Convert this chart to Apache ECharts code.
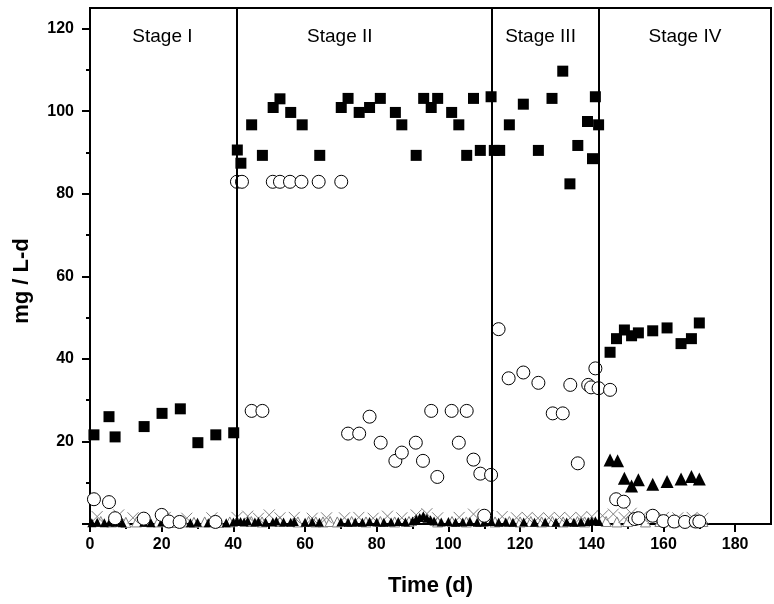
<!DOCTYPE html>
<html>
<head>
<meta charset="utf-8">
<script src="https://cdn.jsdelivr.net/npm/echarts@6/dist/echarts.min.js"></script>
<style>html,body{margin:0;padding:0;background:#fff;}#c{width:774px;height:604px;}</style>
</head>
<body>
<div id="c"></div>
<script>
// ---- data ----
const xMajorTicks = [0, 20, 40, 60, 80, 100, 120, 140, 160, 180];
const xMinorTicks = [10, 30, 50, 70, 90, 110, 130, 150, 170];
const yMajorTicks = [0, 20, 40, 60, 80, 100, 120];
const yLabelTicks = [20, 40, 60, 80, 100, 120];
const yMinorTicks = [10, 30, 50, 70, 90, 110];

const stageBounds = [41, 112, 142];
const stageNames = ['Stage I', 'Stage II', 'Stage III', 'Stage IV'];
const stageLabelX = [20.2, 69.7, 125.7, 166];
const stageLabelY = 118.0;

const squares = [
  [1.1,21.6],[5.3,26.0],[7.0,21.1],[15.1,23.6],[20.1,26.8],[25.2,27.9],[30.1,19.7],[35.1,21.6],[40.1,22.1],
  [41.1,90.6],[42.1,87.4],[45.1,96.7],[48.1,89.3],[51.1,100.9],[53.0,103.0],[56.0,99.7],[59.2,96.7],[64.1,89.3],
  [70.1,100.9],[72.0,103.1],[75.1,99.7],[78.0,100.9],[81.0,103.1],[85.2,99.7],[87.0,96.7],[91.0,89.3],
  [93.1,103.1],[95.2,100.9],[97.0,103.1],[100.9,99.7],[102.9,96.7],[105.1,89.3],[107.0,103.1],[108.9,90.5],[111.9,103.5],
  [112.8,90.5],[114.3,90.5],[117.0,96.7],[120.9,101.7],[125.1,90.5],[128.9,103.1],[131.9,109.7],[133.9,82.4],
  [136.1,91.7],[138.8,97.5],[140.2,88.5],[141.0,103.5],[141.9,96.7],
  [145.1,41.6],[146.9,44.9],[149.1,47.0],[151.1,45.6],[153.0,46.3],[157.0,46.8],[161.0,47.5],[164.9,43.7],[167.8,44.9],[170.0,48.7]
];

const circles = [
  [1.1,6.0],[5.3,5.3],[7,1.4],[15,1.3],[20,2.2],[22,0.6],[25,0.5],[35,0.5],
  [41,82.9],[42.4,82.9],[45.1,27.4],[48.1,27.4],[51,82.9],[53,82.9],[55.8,82.9],[59,82.9],[63.8,82.9],[70.1,82.9],
  [72,21.9],[75.1,21.9],[78,26.0],[81.1,19.7],[85.2,15.3],[87,17.3],[90.9,19.7],[92.9,15.3],[95.2,27.4],[96.9,11.4],
  [100.9,27.4],[102.9,19.7],[105.1,27.4],[107,15.6],[108.9,12.2],[110,2.0],[111.9,11.9],
  [114,47.2],[116.8,35.3],[120.9,36.7],[125.1,34.2],[129.1,26.8],[131.9,26.8],[134,33.7],[136.1,14.7],
  [139,33.7],[139.8,33.1],[141,37.7],[141.9,32.9],
  [145.1,32.5],[146.8,6.0],[148.9,5.4],[152,1.2],[153,1.4],[157,2.0],[160,0.7],[163,0.6],[166,0.5],[169,0.6],[170,0.6]
];

const bigTriangles = [
  [145.1,15.5],[147.2,15.3],[149.1,11.1],[151.1,9.2],[153.0,10.7],[157.0,9.6],[161.0,10.3],[164.9,10.9],[167.8,11.5],[170.0,10.9]
];

const smallTriangles = [
  [0.5,0.3],[2,0.4],[4,0.3],[5.5,0.5],[7,0.4],[9,0.3],[15,0.4],[17,0.3],[20,0.5],[22,0.3],[25,0.4],[28,0.3],[30,0.4],
  [33,0.3],[35,0.4],[38,0.3],[40,0.5],[41,0.8],[42,0.6],[43,0.5],[44,0.7],[46,0.5],[47,0.6],[49,0.4],[51,0.5],[52,0.7],
  [54,0.5],[56,0.4],[57,0.6],[60,0.4],[62,0.5],[64,0.4],[70,0.5],[72,0.4],[74,0.5],[76,0.4],[78,0.6],[80,0.5],[82,0.4],
  [84,0.5],[86,0.6],[88,0.5],[90,0.7],[91,1.2],[92,1.6],[93,2.0],[94,1.4],[95,1.0],[96,0.7],[98,0.5],[100,0.6],[102,0.4],
  [104,0.5],[106,0.6],[108,0.4],[110,0.5],[112,0.6],[114,0.4],[116,0.5],[118,0.4],[121,0.5],[124,0.4],[127,0.5],[130,0.4],
  [133,0.5],[135,0.4],[137,0.5],[139,0.6],[140,0.7],[141,0.8],[142,0.6]
];

const openTriangles = [
  [3,0.6],[6,0.5],[10,0.4],[13,0.5],[16,0.6],[19,0.5],[23,0.4],[26,0.5],[29,0.4],[32,0.5],[36,0.4],[39,0.5],[45,0.6],
  [48,0.5],[53,0.6],[58,0.5],[61,0.6],[63,0.5],[65,0.5],[67,0.6],[69,0.5],[73,0.6],[77,0.5],[81,0.6],[85,0.5],[89,0.6],
  [97,0.5],[101,0.6],[105,0.5],[109,0.6],[113,0.5],[117,0.6],[120,0.5],[123,0.6],[126,0.5],[129,0.6],[132,0.5],[136,0.6],
  [138,0.5],[144,0.6],[147,0.5],[150,0.6],[155,0.5],[159,0.6],[163,0.5],[166,0.6],[169,0.5],[171,0.6]
];

const crosses = [
  [2,1.8],[8,2.2],[12,1.5],[21,1.6],[27,1.4],[34,1.5],[41,1.6],[44,1.9],[47,1.4],[50,2.2],[53,1.5],[57,1.6],[62,1.4],
  [66,1.5],[71,1.5],[75,1.6],[79,1.4],[83,1.9],[87,1.5],[91,2.2],[94,2.5],[97,1.5],[103,1.6],[107,2.4],[111,2.0],
  [115,1.8],[119,1.5],[122,1.6],[125,1.4],[128,1.5],[131,1.6],[134,1.5],[137,1.6],[140,1.8],[143,2.0],[146,2.4],
  [149,1.6],[151,2.6],[154,1.8],[157,1.4],[160,1.6],[164,1.5],[168,1.6],[171,1.4]
];

// ---- chart ----
const FONT = "'Liberation Sans', Arial, Helvetica, sans-serif";
const chart = echarts.init(document.getElementById('c'), null, { renderer: 'canvas' });

const stageLabelData = stageNames.map((n, i) => ({ name: n, value: [stageLabelX[i], stageLabelY] }));

const option = {
  animation: false,
  backgroundColor: '#ffffff',
  grid: { left: 90, right: 3, top: 8, bottom: 80, show: true, borderColor: '#000', borderWidth: 2, backgroundColor: 'transparent' },
  xAxis: [
    {
      type: 'value', min: 0, max: 190,
      name: 'Time (d)', nameLocation: 'middle', nameGap: 51,
      nameTextStyle: { fontFamily: FONT, fontWeight: 'bold', fontSize: 22, color: '#000' },
      axisLine: { show: true, lineStyle: { color: '#000', width: 2 } },
      axisTick: { show: true, inside: false, length: 8, lineStyle: { color: '#000', width: 2 }, customValues: xMajorTicks },
      axisLabel: { show: true, margin: 13, fontFamily: FONT, fontWeight: 'bold', fontSize: 16, color: '#000', customValues: xMajorTicks },
      splitLine: { show: false }
    },
    {
      type: 'value', min: 0, max: 190, position: 'bottom', offset: 0,
      axisLine: { show: false },
      axisTick: { show: true, inside: false, length: 5, lineStyle: { color: '#000', width: 2 }, customValues: xMinorTicks },
      axisLabel: { show: false },
      splitLine: { show: false }
    }
  ],
  yAxis: [
    {
      type: 'value', min: 0, max: 125,
      axisLine: { show: true, lineStyle: { color: '#000', width: 2 } },
      axisTick: { show: true, inside: false, length: 8, lineStyle: { color: '#000', width: 2 }, customValues: yMajorTicks },
      axisLabel: { show: true, margin: 16, fontFamily: FONT, fontWeight: 'bold', fontSize: 16, color: '#000', customValues: yLabelTicks },
      splitLine: { show: false }
    },
    {
      type: 'value', min: 0, max: 125, position: 'left', offset: 0,
      axisLine: { show: false },
      axisTick: { show: true, inside: false, length: 4, lineStyle: { color: '#000', width: 2 }, customValues: yMinorTicks },
      axisLabel: { show: false },
      splitLine: { show: false }
    }
  ],
  graphic: [
    {
      type: 'text', x: 22, y: 281, rotation: Math.PI / 2,
      style: { text: 'mg / L-d', font: "bold 22px " + FONT, fill: '#000', align: 'center', verticalAlign: 'middle' }
    }
  ],
  series: [
    {
      type: 'scatter', name: 'stages', data: stageLabelData, symbolSize: 1,
      itemStyle: { color: 'transparent', opacity: 1 }, silent: true,
      label: { show: true, position: 'inside', formatter: '{b}', fontFamily: FONT, fontSize: 19, color: '#000', opacity: 1 },
      markLine: {
        silent: true, symbol: ['none', 'none'], label: { show: false },
        lineStyle: { color: '#000', width: 2, type: 'solid', opacity: 1 },
        data: stageBounds.map(v => ({ xAxis: v }))
      }
    },
    {
      type: 'scatter', name: 'open triangles', data: openTriangles, symbol: 'triangle', symbolSize: 10,
      itemStyle: { color: '#fff', borderColor: '#808080', borderWidth: 1, opacity: 1 }
    },
    {
      type: 'scatter', name: 'crosses', data: crosses, symbol: 'path://M0,0L10,10M10,0L0,10', symbolSize: 11,
      itemStyle: { color: 'none', borderColor: '#808080', borderWidth: 1, opacity: 1 }
    },
    {
      type: 'scatter', name: 'small triangles', data: smallTriangles, symbol: 'triangle', symbolSize: 9,
      itemStyle: { color: '#000', opacity: 1 }
    },
    {
      type: 'scatter', name: 'circles', data: circles, symbol: 'circle', symbolSize: 13,
      itemStyle: { color: '#fff', borderColor: '#000', borderWidth: 1, opacity: 1 }
    },
    {
      type: 'scatter', name: 'big triangles', data: bigTriangles, symbol: 'triangle', symbolSize: 13,
      itemStyle: { color: '#000', opacity: 1 }
    },
    {
      type: 'scatter', name: 'squares', data: squares, symbol: 'rect', symbolSize: 11,
      itemStyle: { color: '#000', opacity: 1 }
    }
  ]
};
chart.setOption(option);
</script>
</body>
</html>
